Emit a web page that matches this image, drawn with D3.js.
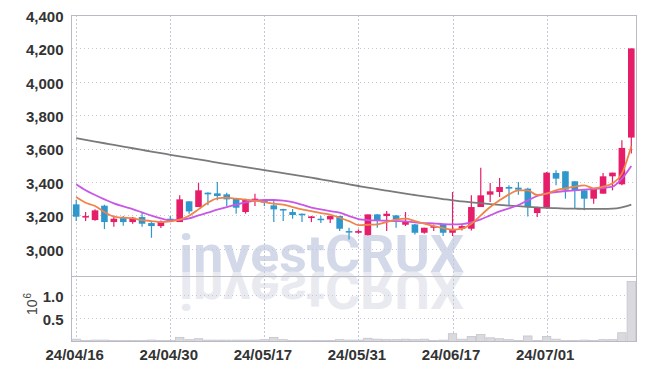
<!DOCTYPE html>
<html>
<head>
<meta charset="utf-8">
<script src="https://cdn.jsdelivr.net/npm/d3@7"></script>
<style>
    html, body { margin: 0; padding: 0; background: #ffffff; }
    svg { display: block; }
    .tick-label { font-family: "Liberation Sans Narrow", "Liberation Sans", sans-serif; font-size: 15px; font-weight: bold; fill: #333; }
</style>
</head>
<body>
<svg id="chart" width="645" height="370"></svg>
<script>
// 交易日 (yy/mm/dd)
const dates = [
    '24/04/16', '24/04/17', '24/04/18', '24/04/19', '24/04/22', '24/04/23', '24/04/24', '24/04/25', '24/04/26', '24/04/29',
    '24/04/30', '24/05/02', '24/05/03', '24/05/07', '24/05/08', '24/05/09', '24/05/10', '24/05/13', '24/05/14', '24/05/16',
    '24/05/17', '24/05/20', '24/05/21', '24/05/22', '24/05/23', '24/05/24', '24/05/27', '24/05/28', '24/05/29', '24/05/30',
    '24/05/31', '24/06/03', '24/06/04', '24/06/05', '24/06/07', '24/06/10', '24/06/11', '24/06/12', '24/06/13', '24/06/14',
    '24/06/17', '24/06/18', '24/06/19', '24/06/20', '24/06/21', '24/06/24', '24/06/25', '24/06/26', '24/06/27', '24/06/28',
    '24/07/01', '24/07/02', '24/07/03', '24/07/04', '24/07/05', '24/07/08', '24/07/09', '24/07/10', '24/07/11', '24/07/12',
]

const open = [
    3266, 3190, 3172, 3258, 3160, 3184, 3160, 3190, 3154, 3136,
    3180, 3160, 3284, 3250, 3336, 3332, 3326, 3300, 3220, 3290,
    3292, 3260, 3238, 3220, 3210, 3184, 3180, 3176, 3196, 3106,
    3096, 3082, 3206, 3196, 3200, 3144, 3146, 3096, 3126, 3146,
    3096, 3120, 3120, 3250, 3324, 3340, 3370, 3366, 3360, 3214,
    3244, 3454, 3464, 3404, 3350, 3300, 3330, 3434, 3386, 3666,
]
const high = [
    3292, 3220, 3236, 3264, 3200, 3196, 3190, 3218, 3160, 3170,
    3196, 3320, 3286, 3396, 3338, 3400, 3336, 3302, 3300, 3330,
    3296, 3286, 3240, 3238, 3212, 3196, 3196, 3200, 3198, 3126,
    3116, 3206, 3208, 3226, 3202, 3220, 3148, 3126, 3146, 3148,
    3340, 3146, 3320, 3486, 3394, 3424, 3380, 3400, 3366, 3252,
    3460, 3470, 3466, 3406, 3352, 3364, 3454, 3456, 3650, 4200,
]
const low = [
    3166, 3166, 3168, 3118, 3132, 3138, 3150, 3132, 3066, 3124,
    3160, 3160, 3210, 3250, 3260, 3290, 3256, 3210, 3210, 3256,
    3256, 3160, 3166, 3180, 3160, 3160, 3155, 3155, 3106, 3056,
    3090, 3080, 3126, 3106, 3126, 3136, 3086, 3090, 3106, 3076,
    3076, 3110, 3110, 3250, 3280, 3310, 3260, 3324, 3194, 3190,
    3240, 3380, 3300, 3240, 3230, 3270, 3330, 3350, 3380, 3570,
]
const close = [
    3192, 3196, 3230, 3160, 3180, 3160, 3186, 3150, 3136, 3164,
    3168, 3296, 3224, 3350, 3326, 3316, 3296, 3246, 3296, 3300,
    3276, 3236, 3232, 3202, 3204, 3194, 3176, 3196, 3120, 3100,
    3106, 3206, 3172, 3210, 3176, 3166, 3096, 3126, 3136, 3096,
    3116, 3136, 3250, 3320, 3344, 3370, 3360, 3354, 3250, 3250,
    3456, 3420, 3354, 3350, 3300, 3364, 3434, 3456, 3604, 4200,
]

// 均线
const ma5 = [
    3310, 3276, 3256, 3220, 3192, 3186, 3182, 3172, 3166, 3160,
    3164, 3174, 3198, 3236, 3276, 3302, 3306, 3300, 3294, 3288,
    3280, 3270, 3264, 3250, 3236, 3226, 3214, 3204, 3186, 3166,
    3142, 3144, 3146, 3160, 3174, 3180, 3166, 3150, 3136, 3124,
    3114, 3120, 3150, 3200, 3250, 3290, 3326, 3350, 3350, 3322,
    3330, 3350, 3362, 3372, 3380, 3362, 3372, 3392, 3450, 3614,
]
const ma20 = [
    3386, 3350, 3322, 3296, 3272, 3254, 3238, 3218, 3198, 3182,
    3170, 3174, 3182, 3200, 3216, 3234, 3250, 3264, 3278, 3288,
    3292, 3292, 3288, 3280, 3264, 3246, 3236, 3226, 3216, 3196,
    3178, 3172, 3170, 3168, 3166, 3164, 3158, 3154, 3152, 3148,
    3146, 3148, 3158, 3176, 3200, 3224, 3242, 3262, 3290, 3316,
    3332, 3340, 3346, 3350, 3354, 3358, 3364, 3372, 3420, 3496,
]
const ma120 = [
    3662, 3652, 3642, 3632, 3622, 3612, 3602, 3592, 3582, 3573,
    3563, 3554, 3544, 3535, 3526, 3516, 3507, 3498, 3489, 3480,
    3471, 3462, 3453, 3444, 3435, 3426, 3416, 3406, 3396, 3386,
    3376, 3366, 3357, 3348, 3339, 3330, 3322, 3314, 3306, 3298,
    3290, 3284, 3278, 3273, 3268, 3263, 3259, 3255, 3251, 3248,
    3245, 3243, 3241, 3240, 3239, 3239, 3239, 3240, 3248, 3264,
]

// 成交量 (百万)
const volume = [
    0.05, 0.02, 0.03, 0.03, 0.02, 0.02, 0.02, 0.02, 0.03, 0.02,
    0.02, 0.09, 0.04, 0.06, 0.03, 0.03, 0.03, 0.03, 0.03, 0.03,
    0.04, 0.09, 0.04, 0.02, 0.02, 0.02, 0.02, 0.02, 0.04, 0.03,
    0.03, 0.07, 0.05, 0.04, 0.04, 0.05, 0.04, 0.05, 0.02, 0.03,
    0.17, 0.05, 0.11, 0.15, 0.08, 0.06, 0.04, 0.02, 0.12, 0.02,
    0.11, 0.05, 0.02, 0.02, 0.03, 0.02, 0.04, 0.04, 0.19, 1.30,
]

const priceTicks = [3000, 3200, 3400, 3600, 3800, 4000, 4200, 4400]
const volumeTicks = [0.5, 1.0]
const dateTicks = ['24/04/16', '24/04/30', '24/05/17', '24/05/31', '24/06/17', '24/07/01']

const colors = {
    up: '#e61e6a',
    down: '#2f97cc',
    ma5: '#f0854a',
    ma20: '#c957e6',
    ma120: '#7a7a7a',
    grid: '#c3c7d9',
    frame: '#b9bac6',
}

const svg = d3.select('#chart')

const left = 71.5
const right = 636
const priceTop = 15
const split = 276.5
const bottom = 341.5

const idx = d3.range(dates.length)
const x = d3.scaleBand().domain(idx).range([left, right]).padding(0)
const cx = i => x(i) + x.bandwidth() / 2
const y = d3.scaleLinear().domain([2834, 4400]).range([split, priceTop])
const yv = d3.scaleLinear().domain([0, 1.41]).range([bottom, split])

// 水印 + 倒影
const mark = svg.append('g').attr('class', 'watermark')
mark.append('text')
    .attr('x', 179).attr('y', 272)
    .attr('textLength', 285).attr('lengthAdjust', 'spacingAndGlyphs')
    .attr('font-family', 'Roboto, "DejaVu Sans", sans-serif')
    .attr('font-weight', 'bold').attr('font-size', 52)
    .attr('fill', '#d3d9e8')
    .text('investCRUX')
mark.append('text')
    .attr('x', 179).attr('y', -272)
    .attr('transform', 'scale(1,-1)')
    .attr('textLength', 285).attr('lengthAdjust', 'spacingAndGlyphs')
    .attr('font-family', 'Roboto, "DejaVu Sans", sans-serif')
    .attr('font-weight', 'bold').attr('font-size', 52)
    .attr('fill', '#e8eaf0')
    .text('investCRUX')

// 网格
const grid = svg.append('g')
    .attr('stroke', colors.grid)
    .attr('stroke-dasharray', '1.5,2.5')
    .attr('shape-rendering', 'crispEdges')
grid.selectAll('.hp').data(priceTicks).join('line')
    .attr('x1', left).attr('x2', right)
    .attr('y1', d => Math.round(y(d)) + 0.5).attr('y2', d => Math.round(y(d)) + 0.5)
grid.selectAll('.hv').data(volumeTicks).join('line')
    .attr('x1', left).attr('x2', right)
    .attr('y1', d => Math.round(yv(d)) + 0.5).attr('y2', d => Math.round(yv(d)) + 0.5)
grid.selectAll('.v').data(dateTicks).join('line')
    .attr('x1', d => Math.round(cx(dates.indexOf(d))) + 0.5)
    .attr('x2', d => Math.round(cx(dates.indexOf(d))) + 0.5)
    .attr('y1', priceTop).attr('y2', bottom)

// 成交量柱
svg.append('g')
    .selectAll('rect').data(idx).join('rect')
    .attr('x', i => x(i) + 0.5)
    .attr('width', x.bandwidth() - 1)
    .attr('y', i => yv(volume[i]))
    .attr('height', i => bottom - yv(volume[i]))
    .attr('fill', '#dadade')
    .attr('stroke', '#c4c4cc')
    .attr('stroke-width', 0.8)

// 蜡烛
const bodyW = 6.6
const candles = svg.append('g').attr('class', 'candles')
    .selectAll('g').data(idx).join('g')
    .attr('fill', i => (close[i] >= open[i] ? colors.up : colors.down))
    .attr('stroke', i => (close[i] >= open[i] ? colors.up : colors.down))
candles.append('line')
    .attr('x1', cx).attr('x2', cx)
    .attr('y1', i => y(high[i])).attr('y2', i => y(low[i]))
    .attr('stroke-width', 1.2)
candles.append('rect')
    .attr('x', i => cx(i) - bodyW / 2)
    .attr('width', bodyW)
    .attr('y', i => y(Math.max(open[i], close[i])))
    .attr('height', i => Math.max(1.5, Math.abs(y(open[i]) - y(close[i]))))
    .attr('stroke', 'none')

// 均线
const line = arr => d3.line().x(cx).y(i => y(arr[i])).curve(d3.curveMonotoneX)(idx)
svg.append('path').attr('d', line(ma120)).attr('fill', 'none')
    .attr('stroke', colors.ma120).attr('stroke-width', 1.8)
svg.append('path').attr('d', line(ma20)).attr('fill', 'none')
    .attr('stroke', colors.ma20).attr('stroke-width', 1.8)
svg.append('path').attr('d', line(ma5)).attr('fill', 'none')
    .attr('stroke', colors.ma5).attr('stroke-width', 1.8)

// 边框
const frame = svg.append('g')
    .attr('stroke', colors.frame).attr('fill', 'none')
    .attr('shape-rendering', 'crispEdges')
frame.append('rect').attr('x', left).attr('y', priceTop).attr('width', right - left).attr('height', bottom - priceTop)
frame.append('line').attr('x1', left).attr('x2', right).attr('y1', split).attr('y2', split)

// 坐标轴文字
svg.append('g')
    .attr('transform', `translate(${left - 5},0)`)
    .call(d3.axisLeft(y).tickValues(priceTicks).tickSize(0).tickFormat(d3.format(',')))
    .call(g => g.select('.domain').remove())
    .selectAll('text').attr('class', 'tick-label').attr('dy', '0.42em')
svg.append('g')
    .attr('transform', `translate(${left - 5},0)`)
    .call(d3.axisLeft(yv).tickValues(volumeTicks).tickSize(0).tickFormat(d3.format('.1f')))
    .call(g => g.select('.domain').remove())
    .selectAll('text').attr('class', 'tick-label').attr('dy', '0.42em')
svg.append('g')
    .attr('transform', `translate(0,${bottom})`)
    .call(d3.axisBottom(d3.scalePoint().domain(dates).range([cx(0), cx(dates.length - 1)]))
        .tickValues(dateTicks).tickSize(0).tickPadding(5))
    .call(g => g.select('.domain').remove())
    .selectAll('text').attr('class', 'tick-label').attr('dy', '0.9em').attr('x', -2)

// 10^6 单位
const unit = svg.append('text')
    .attr('transform', 'translate(37,315) rotate(-90)')
    .attr('font-family', '"Liberation Sans Narrow", "Liberation Sans", sans-serif')
    .attr('font-size', 14).attr('fill', '#444')
unit.append('tspan').text('10')
unit.append('tspan').attr('font-size', 10).attr('dy', -6).attr('dx', 1).text('6')
</script>
</body>
</html>
